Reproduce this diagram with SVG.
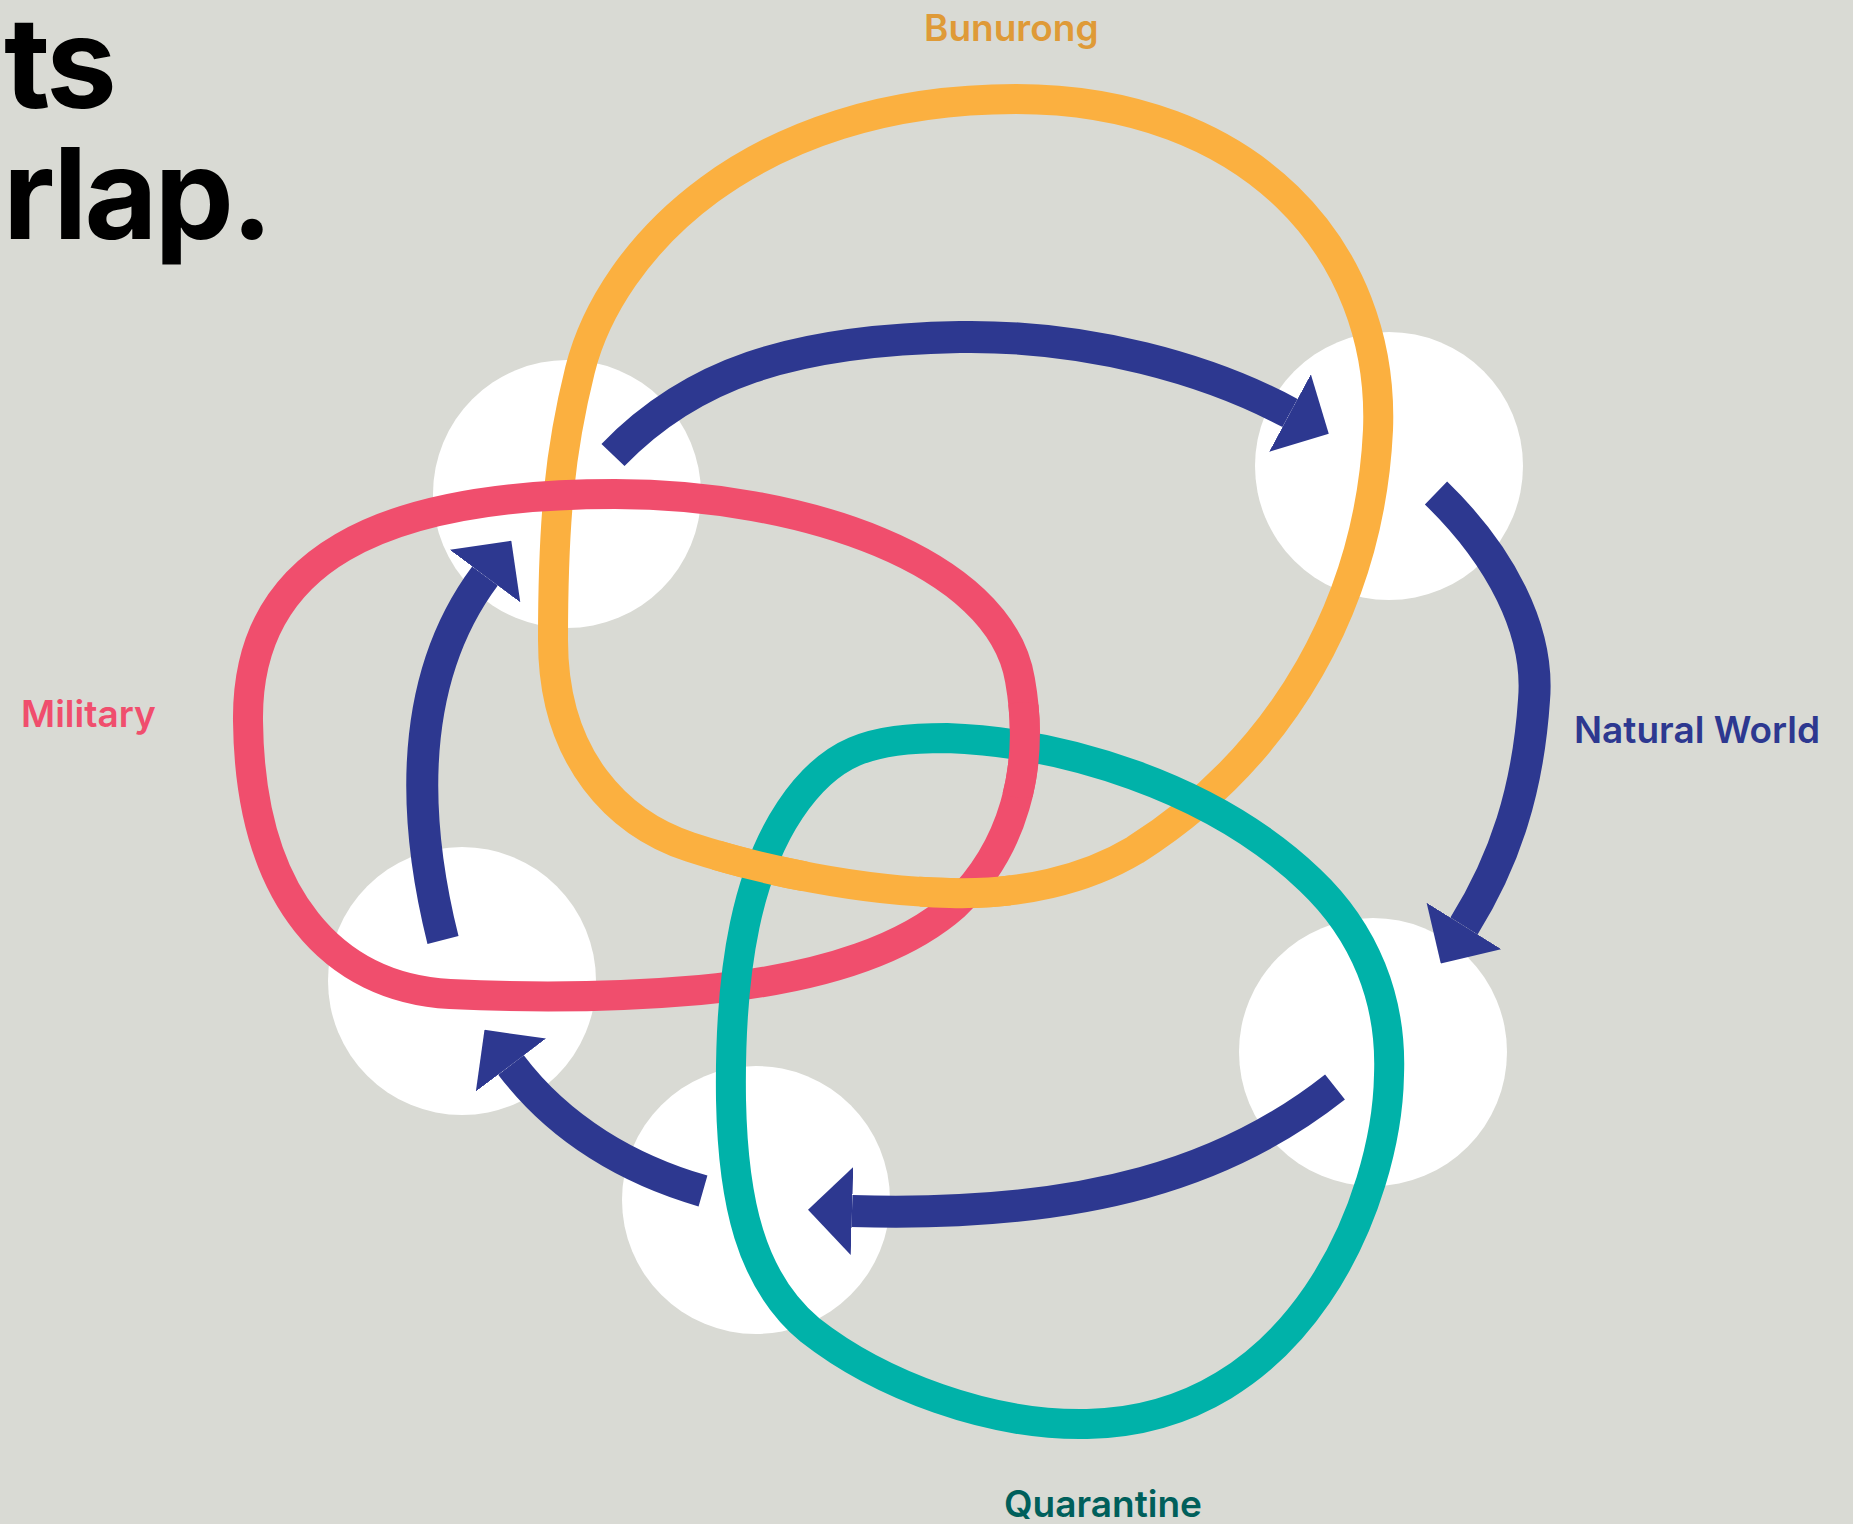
<svg xmlns="http://www.w3.org/2000/svg" xmlns:xlink="http://www.w3.org/1999/xlink" width="1853" height="1524" viewBox="0 0 1853 1524">
  <defs>
    <style>
      .bg { fill: #D9DAD4; }
      .node { fill: #FFFFFF; }
      .loop { fill: none; stroke-width: 30; }
      .bunurong { stroke: #FBB040; }
      .military { stroke: #F04E6D; }
      .quarantine { stroke: #00B2A9; }
      .flow { fill: none; stroke: #2D3890; stroke-width: 32; marker-end: url(#head); }
      .title { font-family: Inter, "Liberation Sans", sans-serif; font-weight: 700; font-size: 126px; letter-spacing: -3px; fill: #000000; }
      .label { font-family: Inter, "Liberation Sans", sans-serif; font-weight: 600; font-size: 37px; }
    </style>
    <marker id="head" viewBox="0 0 44 88" refX="0" refY="44" markerWidth="44" markerHeight="88" markerUnits="userSpaceOnUse" orient="auto">
      <path d="M0,0 L44,44 L0,88 Z" fill="#2D3890"/>
    </marker>
    <!-- the three context loops -->
    <path id="loop-bunurong" d="M1016,99 C1250,99 1385,250 1378,430 C1370,600 1285,755 1135,850 C1085,880 1020,895 950,893 C860,891 760,870 690,847 C620,824 553,760 553,640 C553,520 560,450 580,370 C610,250 750,99 1016,99 Z"/>
    <path id="loop-military" d="M615,494 C800,494 1000,560 1020,680 C1036,770 1012,850 955,905 C910,945 830,978 700,990 C620,997 530,998 450,994 C335,988 250,900 248,721 C246,560 380,494 615,494 Z"/>
    <path id="loop-quarantine" d="M947,738 C1060,742 1210,785 1310,880 C1365,932 1392,1000 1389,1075 C1387,1200 1300,1420 1087,1424 C990,1426 880,1385 810,1330 C750,1280 733,1200 731,1100 C729,960 750,870 790,810 C830,750 870,738 947,738 Z"/>
    <!-- over-crossings that break the plain stacking order -->
    <clipPath id="over-bunurong-military"><circle cx="965" cy="891" r="48"/></clipPath>
    <clipPath id="over-bunurong-quarantine"><circle cx="760" cy="868" r="48"/></clipPath>
    <clipPath id="over-military-quarantine"><circle cx="1023" cy="750" r="48"/></clipPath>
  </defs>

  <rect class="bg" x="0" y="0" width="1853" height="1524"/>

  <g id="title">
    <text class="title" x="4" y="108">ts</text>
    <text class="title" x="3" y="239">rlap.</text>
  </g>

  <g id="nodes">
    <g id="node-a"><circle class="node" cx="567" cy="494" r="134"/></g>
    <g id="node-b"><circle class="node" cx="1389" cy="466" r="134"/></g>
    <g id="node-c"><circle class="node" cx="462" cy="981" r="134"/></g>
    <g id="node-d"><circle class="node" cx="756" cy="1200" r="134"/></g>
    <g id="node-e"><circle class="node" cx="1373" cy="1052" r="134"/></g>
  </g>

  <g id="loops">
    <g id="bunurong">
      <use xlink:href="#loop-bunurong" class="loop bunurong"/>
      <text class="label" x="924" y="41" fill="#DF9A37">Bunurong</text>
    </g>
    <g id="military">
      <use xlink:href="#loop-military" class="loop military"/>
      <text class="label" x="21" y="727" fill="#F04E6D">Military</text>
    </g>
    <g id="quarantine">
      <use xlink:href="#loop-quarantine" class="loop quarantine"/>
      <text class="label" x="1004" y="1517" fill="#005F5B">Quarantine</text>
    </g>
    <g id="weave">
      <use xlink:href="#loop-bunurong" class="loop bunurong" clip-path="url(#over-bunurong-military)"/>
      <use xlink:href="#loop-bunurong" class="loop bunurong" clip-path="url(#over-bunurong-quarantine)"/>
      <use xlink:href="#loop-military" class="loop military" clip-path="url(#over-military-quarantine)"/>
    </g>
  </g>

  <g id="connectors">
    <path id="flow-a-b" class="flow" d="M613,455 C690,375 790,340 960,337 C1090,335 1210,370 1290,413"/>
    <path id="flow-b-e" class="flow" d="M1436,493 C1500,555 1540,630 1534,700 C1528,790 1505,860 1464,926"/>
    <path id="flow-e-d" class="flow" d="M1335,1087 C1230,1170 1090,1218 852,1211"/>
    <path id="flow-d-c" class="flow" d="M703,1191 C630,1170 560,1130 511,1065"/>
    <path id="flow-c-a" class="flow" d="M443,940 C418,840 400,690 485,576"/>
  </g>

  <g id="natural-world">
    <text class="label" x="1574" y="743" fill="#2D3890">Natural World</text>
  </g>
</svg>
